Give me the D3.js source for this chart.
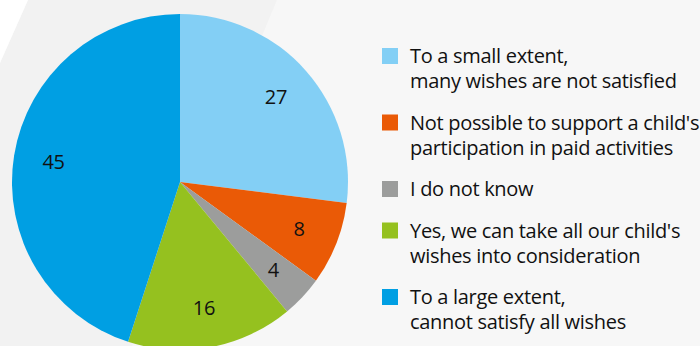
<!DOCTYPE html>
<html>
<head>
<meta charset="utf-8">
<script src="https://cdn.jsdelivr.net/npm/d3@7"></script>
<style>
  body { margin: 0; background: #f7f7f7; }
  svg { display: block; font-family: "Open Sans", sans-serif; }
</style>
</head>
<body>
<div id="chart"></div>
<script>
var categories = [
  "To a small extent,|many wishes are not satisfied",
  "Not possible to support a child's|participation in paid activities",
  "I do not know",
  "Yes, we can take all our child's|wishes into consideration",
  "To a large extent,|cannot satisfy all wishes"
];
var values = [27, 8, 4, 16, 45];
var colors = ["#83cff5", "#ea5a06", "#9c9d9c", "#95c11f", "#009fe3"];

var width = 700, height = 346;
var svg = d3.select("#chart").append("svg")
    .attr("width", width)
    .attr("height", height);

// background: pale band running diagonally on the left
svg.append("rect").attr("width", width).attr("height", height).attr("fill", "#f7f7f7");
svg.append("path")
    .attr("d", "M28,0L277,0L132,346L0,346L0,63Z")
    .attr("fill", "#f2f2f2");
svg.append("path")
    .attr("d", "M0,0L28,0L0,63Z")
    .attr("fill", "#ffffff");

var data = categories.map((c, i) => ({ label: c, value: values[i], color: colors[i] }));

var radius = 168;
var pie = d3.pie().sort(null).value(d => d.value);
var arc = d3.arc().innerRadius(0).outerRadius(radius);
var labelArc = d3.arc().innerRadius(128).outerRadius(128);

var g = svg.append("g").attr("transform", "translate(180,182)");

g.selectAll("path")
    .data(pie(data))
    .enter().append("path")
    .attr("d", arc)
    .attr("fill", d => d.data.color);

g.selectAll("text")
    .data(pie(data))
    .enter().append("text")
    .attr("transform", d => `translate(${labelArc.centroid(d)})`)
    .attr("dy", ".35em")
    .style("text-anchor", "middle")
    .style("font-size", "20px")
    .style("letter-spacing", "-0.3px")
    .style("fill", "#111")
    .text(d => d.data.value);

// legend
var lineHeight = 25, itemGap = 41.5;
var legend = svg.append("g").attr("transform", "translate(382,0)");
var y0 = 63;
data.forEach(function (d) {
  var lines = d.label.split("|");
  var item = legend.append("g").attr("transform", `translate(0,${y0})`);
  item.append("rect")
      .attr("x", 0)
      .attr("y", -15)
      .attr("width", 16)
      .attr("height", 16)
      .attr("fill", d.color);
  item.append("text")
      .attr("x", 28)
      .style("font-size", "20px")
      .style("letter-spacing", "-0.3px")
      .style("fill", "#111")
      .selectAll("tspan")
      .data(lines)
      .enter().append("tspan")
      .attr("x", 28)
      .attr("y", (l, i) => i * lineHeight)
      .text(l => l);
  y0 += (lines.length - 1) * lineHeight + itemGap;
});
</script>
</body>
</html>
